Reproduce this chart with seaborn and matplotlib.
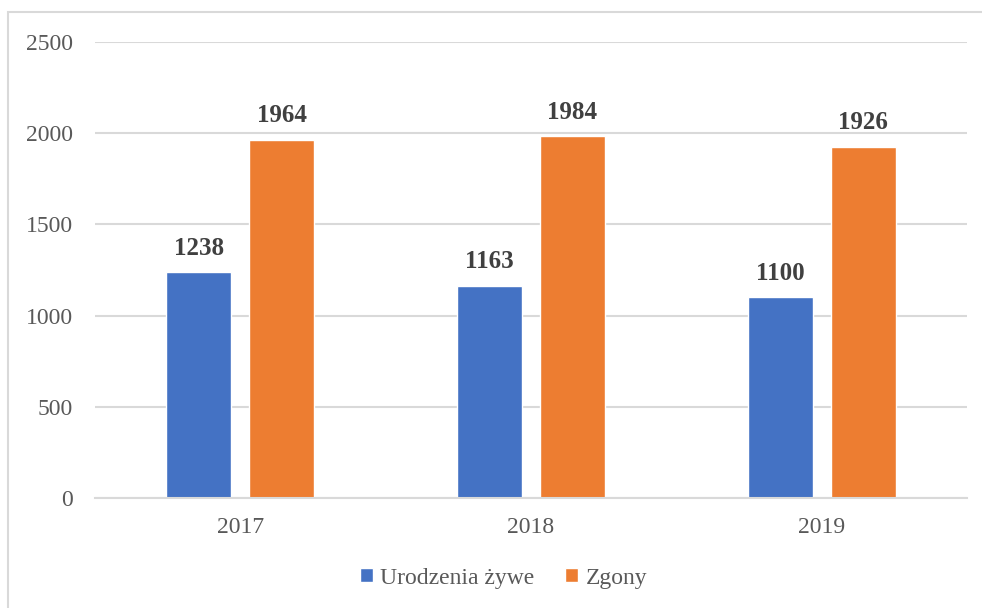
import pandas as pd
import matplotlib
matplotlib.use("Agg")
import matplotlib.pyplot as plt
import seaborn as sns
from matplotlib.patches import Rectangle, Patch

years = ["2017", "2018", "2019"]
series = ["Urodzenia żywe", "Zgony"]
births = [1238, 1163, 1100]
deaths = [1964, 1984, 1926]
colors = ["#4472C4", "#ED7D31"]

df = pd.DataFrame({
    "year": years * 2,
    "series": [series[0]] * 3 + [series[1]] * 3,
    "value": births + deaths,
})

sns.set_theme(style="white")
plt.rcParams["font.family"] = ["Liberation Serif", "DejaVu Serif"]

fig = plt.figure(figsize=(9.82, 6.08), dpi=100)
ax = fig.add_axes([0.0967, 0.181, 0.888, 0.75])

sns.barplot(data=df, x="year", y="value", hue="series", palette=colors,
            width=0.572, gap=0.217, ax=ax, legend=False, saturation=1)

ax.set_ylim(0, 2500)
ax.set_yticks(range(0, 2501, 500))
ax.set_xlim(-0.5, 2.5)
ax.yaxis.grid(True, color="#D9D9D9", linewidth=1.5)
ax.set_axisbelow(True)
for s in ["top", "right", "left"]:
    ax.spines[s].set_visible(False)
ax.spines["bottom"].set_color("#D9D9D9")
ax.spines["bottom"].set_linewidth(1.5)
ax.tick_params(axis="y", length=0, pad=16, labelsize=17, labelcolor="#595959")
ax.tick_params(axis="x", length=0, pad=14, labelsize=17, labelcolor="#595959")
ax.set_xlabel("")
ax.set_ylabel("")

for cont in ax.containers:
    ax.bar_label(cont, padding=9, fontsize=18, fontweight="bold", color="#404040")

handles = [Patch(facecolor=c, label=l) for c, l in zip(colors, series)]
fig.legend(handles=handles, loc="center", bbox_to_anchor=(0.513, 0.049), ncol=2,
           frameon=False, fontsize=17, handlelength=0.55, handleheight=0.55,
           handletextpad=0.3, columnspacing=1.3, labelcolor="#595959")

fig.patches.append(Rectangle((8 / 982, -0.1), 1.2, 1.1 - 12 / 608,
                             transform=fig.transFigure, fill=False,
                             edgecolor="#D9D9D9", linewidth=1.5))

fig.savefig("out.png", dpi=100)
